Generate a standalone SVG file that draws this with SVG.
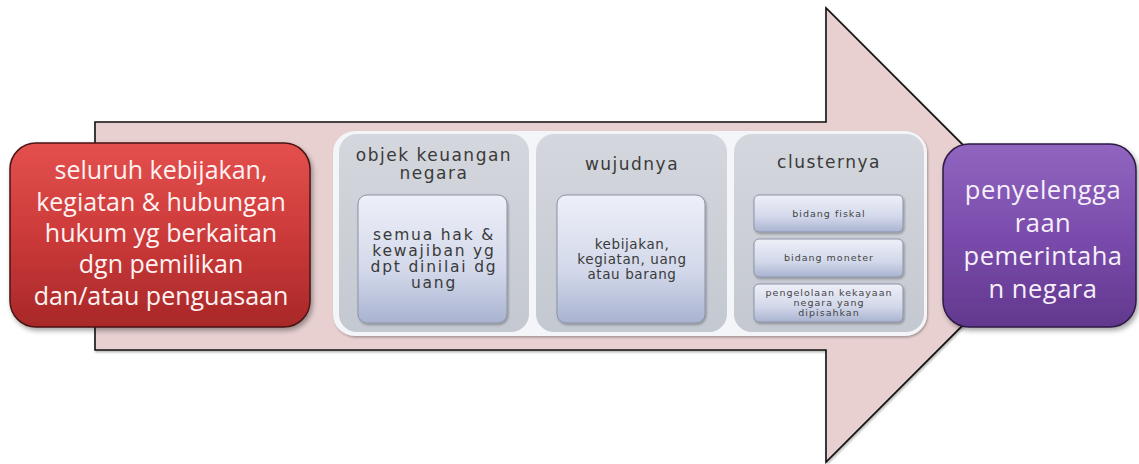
<svg xmlns="http://www.w3.org/2000/svg" width="1139" height="464" viewBox="0 0 1139 464">
<defs>
<linearGradient id="gRed" x1="0" y1="0" x2="0" y2="1"><stop offset="0" stop-color="#e4504e"/><stop offset="0.5" stop-color="#cc3a3a"/><stop offset="1" stop-color="#a82828"/></linearGradient>
<linearGradient id="gPur" x1="0" y1="0" x2="0" y2="1"><stop offset="0" stop-color="#9066c0"/><stop offset="0.5" stop-color="#7a4cac"/><stop offset="1" stop-color="#62388e"/></linearGradient>
<linearGradient id="gPanel" x1="0" y1="0" x2="0" y2="1"><stop offset="0" stop-color="#d4d7dd"/><stop offset="1" stop-color="#c4c8d0"/></linearGradient>
<linearGradient id="gInner" x1="0" y1="0" x2="0" y2="1"><stop offset="0" stop-color="#eef0f8"/><stop offset="0.6" stop-color="#d2d8ea"/><stop offset="1" stop-color="#a9b3d0"/></linearGradient>
<filter id="sh" x="-10%" y="-10%" width="125%" height="130%"><feDropShadow dx="2" dy="3" stdDeviation="2.5" flood-color="#000" flood-opacity="0.35"/></filter>
<filter id="sh2" x="-10%" y="-10%" width="125%" height="130%"><feDropShadow dx="1" dy="1.5" stdDeviation="1.2" flood-color="#000" flood-opacity="0.3"/></filter>
</defs>
<style>
.big{font-family:"Open Sans","Liberation Sans",sans-serif;font-size:25px;fill:#fff2f2;text-anchor:middle}
.bigp{font-family:"Open Sans","Liberation Sans",sans-serif;font-size:25.5px;fill:#f6f0fa;text-anchor:middle;letter-spacing:0.5px}
.hdr{font-family:"DejaVu Sans","Liberation Sans",sans-serif;font-size:17px;fill:#3a3a3a;text-anchor:middle;letter-spacing:1.5px}
.mid1{font-family:"DejaVu Sans","Liberation Sans",sans-serif;font-size:15.5px;fill:#3a3a3a;text-anchor:middle;letter-spacing:1.8px}
.mid2{font-family:"DejaVu Sans","Liberation Sans",sans-serif;font-size:13.5px;fill:#3a3a3a;text-anchor:middle;letter-spacing:0.6px}
.sm{font-family:"DejaVu Sans","Liberation Sans",sans-serif;font-size:9.5px;fill:#444;text-anchor:middle;letter-spacing:1px}
.panel{fill:url(#gPanel)}
.inner{fill:url(#gInner);stroke:#8c93a6;stroke-width:1}
</style>
<g id="connectors">
<path d="M95,122 H826 V8 L1053,235 L826,462 V350 H95 Z" fill="#e8d0d0" stroke="#111" stroke-width="1.6" filter="url(#sh2)"/>
</g>
<g id="node-source">
<rect x="10" y="143" width="300" height="184" rx="26" fill="url(#gRed)" stroke="#4a1414" stroke-width="1.5" filter="url(#sh)"/>
<text class="big" x="161" y="179">seluruh kebijakan,</text>
<text class="big" x="161" y="211">kegiatan &amp; hubungan</text>
<text class="big" x="161" y="242">hukum yg berkaitan</text>
<text class="big" x="161" y="273">dgn pemilikan</text>
<text class="big" x="161" y="305">dan/atau penguasaan</text>
</g>
<g id="node-container">
<rect x="333" y="131" width="594" height="205" rx="22" fill="#f4f5f8" filter="url(#sh2)"/>
</g>
<g id="node-objek">
<rect x="339" y="134" width="190" height="198" rx="18" class="panel"/>
<text class="hdr" x="434" y="161">objek keuangan</text>
<text class="hdr" x="434" y="179">negara</text>
<rect x="358" y="195" width="149" height="128" rx="9" class="inner" filter="url(#sh2)"/>
<text class="mid1" x="434" y="240">semua hak &amp;</text>
<text class="mid1" x="434" y="256">kewajiban yg</text>
<text class="mid1" x="434" y="272">dpt dinilai dg</text>
<text class="mid1" x="434" y="288">uang</text>
</g>
<g id="node-wujud">
<rect x="536" y="134" width="191" height="198" rx="18" class="panel"/>
<text class="hdr" x="632" y="170">wujudnya</text>
<rect x="557" y="195" width="148" height="128" rx="9" class="inner" filter="url(#sh2)"/>
<text class="mid2" x="632" y="249">kebijakan,</text>
<text class="mid2" x="632" y="264">kegiatan, uang</text>
<text class="mid2" x="632" y="279">atau barang</text>
</g>
<g id="node-cluster">
<rect x="734" y="134" width="190" height="198" rx="18" class="panel"/>
<text class="hdr" x="829" y="168">clusternya</text>
<rect x="754" y="195" width="149" height="37" rx="5" class="inner" filter="url(#sh2)"/>
<text class="sm" x="829" y="217">bidang fiskal</text>
<rect x="754" y="239" width="149" height="38" rx="5" class="inner" filter="url(#sh2)"/>
<text class="sm" x="829" y="261">bidang moneter</text>
<rect x="754" y="284" width="149" height="38" rx="5" class="inner" filter="url(#sh2)"/>
<text class="sm" x="829" y="296">pengelolaan kekayaan</text>
<text class="sm" x="829" y="306">negara yang</text>
<text class="sm" x="829" y="316">dipisahkan</text>
</g>
<g id="node-target">
<rect x="943" y="144" width="193" height="183" rx="26" fill="url(#gPur)" stroke="#2e1a44" stroke-width="1.5" filter="url(#sh)"/>
<text class="bigp" x="1043" y="199">penyelengga</text>
<text class="bigp" x="1043" y="232">raan</text>
<text class="bigp" x="1043" y="265">pemerintaha</text>
<text class="bigp" x="1043" y="298">n negara</text>
</g>
</svg>
